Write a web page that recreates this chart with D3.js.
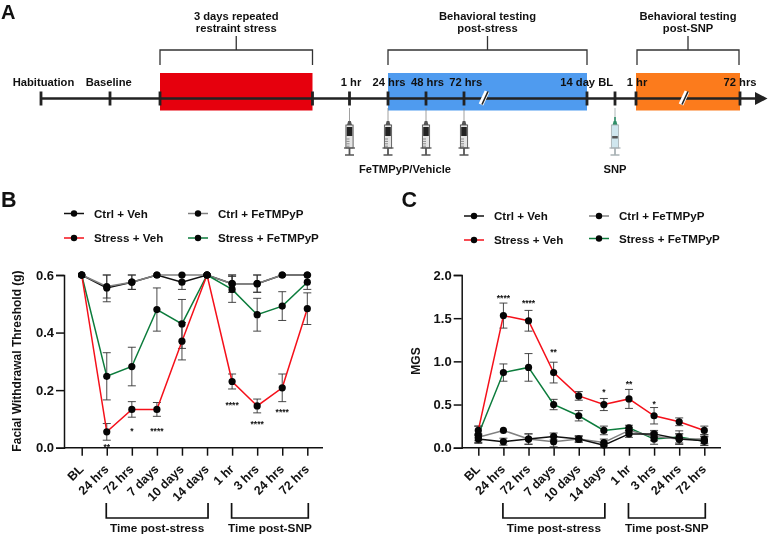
<!DOCTYPE html>
<html><head><meta charset="utf-8">
<script src="https://cdn.jsdelivr.net/npm/d3@7"></script>
<style>html,body{margin:0;padding:0;background:#fff}svg{display:block;filter:blur(0.3px)}text{font-family:"Liberation Sans",Arial,sans-serif;font-weight:700;fill:#111}</style>
</head><body><svg id="c" width="768" height="535"></svg>
<script>
const timeCategories=["BL","24 hrs","72 hrs","7 days","10 days","14 days","1 hr","3 hrs","24 hrs","72 hrs"];
const seriesNames=["Ctrl + Veh","Stress + Veh","Ctrl + FeTMPyP","Stress + FeTMPyP"];
const seriesColors=["#111111","#f5101a","#808080","#0c7c3c"];
// Panel B: facial withdrawal threshold
const bCtrlVeh=[0.6,0.555,0.575,0.6,0.575,0.6,0.57,0.57,0.6,0.6];
const bCtrlVehErr=[0,0.048,0.025,0,0.025,0,0.03,0.03,0,0];
const bStressVeh=[0.6,0.055,0.133,0.133,0.37,0.6,0.23,0.145,0.208,0.483];
const bStressVehErr=[0,0.029,0.027,0.024,0.065,0,0.026,0.024,0.048,0.055];
const bCtrlFe=[0.6,0.56,0.575,0.6,0.6,0.6,0.57,0.57,0.6,0.6];
const bCtrlFeErr=[0,0.04,0.025,0,0,0,0.03,0.03,0,0];
const bStressFe=[0.6,0.248,0.282,0.48,0.43,0.6,0.55,0.462,0.492,0.575];
const bStressFeErr=[0,0.082,0.067,0.075,0.085,0,0.045,0.057,0.05,0.025];
const bStars=["","**","*","****","","","****","****","****",""];
const bStarLevels=[0,0.01,0.065,0.065,0,0,0.155,0.09,0.13,0];
// Panel C: MGS
const cCtrlVeh=[0.1,0.07,0.1,0.13,0.1,0.03,0.16,0.16,0.1,0.08];
const cCtrlVehErr=[0.04,0.04,0.06,0.04,0.04,0.03,0.04,0.04,0.06,0.05];
const cStressVeh=[0.2,1.53,1.47,0.87,0.6,0.5,0.565,0.37,0.3,0.2];
const cStressVehErr=[0.05,0.145,0.12,0.12,0.05,0.07,0.11,0.095,0.045,0.05];
const cCtrlFe=[0.12,0.2,0.1,0.07,0.1,0.06,0.2,0.13,0.1,0.1];
const cCtrlFeErr=[0.04,0,0.06,0.06,0.03,0.04,0.03,0.05,0.06,0.05];
const cStressFe=[0.15,0.87,0.93,0.5,0.37,0.2,0.23,0.1,0.125,0.075];
const cStressFeErr=[0.1,0.1,0.16,0.06,0.06,0.05,0.03,0.06,0.07,0.05];
const cStars=["","****","****","**","","*","**","*","",""];
const cStarLevels=[0,1.76,1.7,1.13,0,0.67,0.76,0.53,0,0];
// Panel A: timeline (position along the schematic, in its own units)
const timelineTicks=[41,110,160,312.5,349.5,388,426,464,587,615,636,740];
const timelineBlocks=[{a:160,b:312.5,c:"#e6000d"},{a:388,b:587,c:"#4f9bef"},{a:636,b:740,c:"#fc7b1c"}];
const timelineBreaks=[485,685];
const timelineLabels=[["Habituation",43.5],["Baseline",108.7],["1 hr",351],["24 hrs",389],["48 hrs",427.5],["72 hrs",465.7],["14 day BL",586.7],["1 hr",637],["72 hrs",740]];
const timelineBrackets=[{a:160,b:312.5,t:["3 days repeated","restraint stress"]},{a:388,b:587,t:["Behavioral testing","post-stress"]},{a:637,b:739,t:["Behavioral testing","post-SNP"]}];
const injectionSites=[349.5,388,426,464];
const snpSite=[615];

const svg=d3.select("#c");
const tx=d3.scaleLinear().domain([0,768]).range([0,768]);
const A=svg.append("g");
const lineY=98.5;
A.selectAll("rect.block").data(timelineBlocks).join("rect").attr("x",d=>tx(d.a)).attr("width",d=>tx(d.b)-tx(d.a)).attr("y",73).attr("height",37.5).attr("fill",d=>d.c);
A.append("line").attr("x1",tx(41)).attr("x2",tx(757)).attr("y1",lineY).attr("y2",lineY).attr("stroke","#222").attr("stroke-width",2.7);
A.append("path").attr("d",`M${tx(755)},${lineY-6.5}L${tx(767.5)},${lineY}L${tx(755)},${lineY+6.5}Z`).attr("fill","#222");
A.selectAll("line.tick").data(timelineTicks).join("line").attr("x1",d=>tx(d)).attr("x2",d=>tx(d)).attr("y1",lineY-7).attr("y2",lineY+7).attr("stroke","#222").attr("stroke-width",2.8);
timelineBreaks.forEach(b=>{
  A.append("line").attr("x1",tx(b-4)).attr("x2",tx(b+2)).attr("y1",lineY+6).attr("y2",lineY-7).attr("stroke","#fff").attr("stroke-width",5);
  A.append("line").attr("x1",tx(b-3)).attr("x2",tx(b+3)).attr("y1",lineY+6).attr("y2",lineY-7).attr("stroke","#222").attr("stroke-width",1.6);
});
A.selectAll("text.tl").data(timelineLabels).join("text").attr("x",d=>tx(d[1])).attr("y",86).attr("text-anchor","middle").attr("font-size",11.2).text(d=>d[0]);
timelineBrackets.forEach(b=>{
  const m=(b.a+b.b)/2;
  A.append("path").attr("d",`M${tx(b.a)},65V50H${tx(b.b)}V65M${tx(m)},50V36`).attr("fill","none").attr("stroke","#333").attr("stroke-width",1.3);
  b.t.forEach((t,i)=>A.append("text").attr("x",tx(m)).attr("y",20+i*11.5).attr("text-anchor","middle").attr("font-size",11.2).text(t));
});
function syringe(x,snp){
  const g=A.append("g").attr("transform",`translate(${tx(x)},0)`);
  const edge=snp?"#a9b2b5":"#555";
  g.append("line").attr("y1",108).attr("y2",124).attr("stroke",snp?"#9aa3a5":"#888").attr("stroke-width",.8);
  if(snp) g.append("line").attr("y1",117).attr("y2",123).attr("stroke","#2f8f68").attr("stroke-width",1.6);
  g.append("path").attr("d","M-2.5,125L-1.3,121H1.3L2.5,125Z").attr("fill",snp?"#2f8f68":"#555");
  g.append("rect").attr("x",-3.6).attr("y",125).attr("width",7.2).attr("height",23).attr("fill",snp?"#cfe6ee":"#e4e4e4").attr("stroke",edge).attr("stroke-width",.9);
  g.append("rect").attr("x",-2.8).attr("y",snp?136:127).attr("width",5.6).attr("height",snp?2.5:9).attr("fill",snp?"#555":"#222");
  if(!snp) d3.range(4).forEach(i=>g.append("line").attr("x1",-3).attr("x2",0).attr("y1",139+i*2.4).attr("y2",139+i*2.4).attr("stroke","#666").attr("stroke-width",.7));
  g.append("line").attr("x1",-5.5).attr("x2",5.5).attr("y1",148).attr("y2",148).attr("stroke",edge).attr("stroke-width",1.3);
  g.append("line").attr("y1",148).attr("y2",155).attr("stroke",edge).attr("stroke-width",1.8);
  g.append("line").attr("x1",-4.5).attr("x2",4.5).attr("y1",155).attr("y2",155).attr("stroke",edge).attr("stroke-width",1.5);
}
injectionSites.forEach(x=>syringe(x,false));
snpSite.forEach(x=>syringe(x,true));
A.append("text").attr("x",405).attr("y",173).attr("text-anchor","middle").attr("font-size",11.2).text("FeTMPyP/Vehicle");
A.append("text").attr("x",615).attr("y",173).attr("text-anchor","middle").attr("font-size",11.2).text("SNP");

[["A",1,18.5,20],["B",1,207,21.5],["C",401.5,207,21.5]].forEach(d=>svg.append("text").attr("x",d[1]).attr("y",d[2]).attr("font-size",d[3]).text(d[0]));

function panel(o){
  const g=svg.append("g");
  const x=d3.scalePoint().domain(d3.range(timeCategories.length)).range([o.x0,o.x1]);
  const y=d3.scaleLinear().domain([0,o.max]).range([447.7,275]);
  const yAxis=d3.axisLeft(y).tickValues(o.ticks).tickFormat(d3.format(".1f")).tickSize(8).tickPadding(2);
  const xAxis=d3.axisBottom(x).tickSize(8).tickFormat(i=>timeCategories[i]);
  const ya=g.append("g").attr("transform",`translate(${o.axisX},0)`).call(yAxis);
  const xa=g.append("g").attr("transform","translate(0,447.7)").call(xAxis);
  xa.select(".domain").attr("d",`M${o.axisX},0H${o.axisEnd}`);
  [ya,xa].forEach(a=>{a.selectAll(".domain,line").attr("stroke","#111").attr("stroke-width",1.5);a.attr("font-family",null).attr("font-size",null)});
  ya.selectAll("text").attr("font-size",13).style("fill","#111");
  xa.selectAll("text").attr("font-size",12.4).style("fill","#111").attr("text-anchor","end").attr("x",0).attr("y",0).attr("dy",".35em").attr("transform","translate(-1,19) rotate(-45)");
  g.append("text").attr("transform",`translate(${o.titleX},361) rotate(-90)`).attr("text-anchor","middle").attr("font-size",12).text(o.title);
  o.series.forEach((s,si)=>{
    const col=seriesColors[s.k];
    const eg=g.append("g");
    s.v.forEach((v,i)=>{
      const e=s.e[i]; if(!e) return;
      const px=x(i),hi=y(Math.min(v+e,o.max)),lo=y(v-e>0?v-e:0);
      eg.append("path").attr("d",`M${px},${hi}V${lo}M${px-4},${hi}H${px+4}M${px-4},${lo}H${px+4}`).attr("fill","none").attr("stroke","#333").attr("stroke-width",.9);
    });
    g.append("path").datum(s.v).attr("fill","none").attr("stroke",col).attr("stroke-width",1.5).attr("d",d3.line().x((d,i)=>x(i)).y(d=>y(d)));
  });
  o.series.forEach(s=>{
    g.selectAll(null).data(s.v).join("circle").attr("cx",(d,i)=>x(i)).attr("cy",d=>y(d)).attr("r",3.6).attr("fill","#050505");
  });
  g.selectAll(null).data(o.stars).join("text").attr("x",(d,i)=>x(i)).attr("y",(d,i)=>y(o.levels[i])+5).attr("text-anchor","middle").attr("font-size",8.5).text(d=>d);
  // brackets below the axis
  [[1,5,"Time post-stress"],[6,9,"Time post-SNP"]].forEach(b=>{
    const a=x(b[0])-0.5,c=x(b[1])+1;
    g.append("path").attr("d",`M${a},503V518H${c}V503`).attr("fill","none").attr("stroke","#111").attr("stroke-width",1.7);
    g.append("text").attr("x",(a+c)/2).attr("y",532).attr("text-anchor","middle").attr("font-size",11.8).text(b[2]);
  });
  // legend
  o.legend.forEach(l=>{
    const k=l[0];
    g.append("line").attr("x1",l[1]).attr("x2",l[1]+20).attr("y1",l[2]).attr("y2",l[2]).attr("stroke",seriesColors[k]).attr("stroke-width",1.5);
    g.append("circle").attr("cx",l[1]+10).attr("cy",l[2]).attr("r",3.2).attr("fill","#050505");
    g.append("text").attr("x",l[1]+30).attr("y",l[2]+4).attr("font-size",11.6).text(seriesNames[k]);
  });
}
panel({x0:81.7,x1:307.3,axisX:64,axisEnd:323,max:0.6,ticks:[0,0.2,0.4,0.6],titleX:20.5,title:"Facial Withdrawal Threshold (g)",
  series:[{k:0,v:bCtrlVeh,e:bCtrlVehErr},{k:2,v:bCtrlFe,e:bCtrlFeErr},{k:3,v:bStressFe,e:bStressFeErr},{k:1,v:bStressVeh,e:bStressVehErr}],
  stars:bStars,levels:bStarLevels,
  legend:[[0,64,213.5],[1,64,238],[2,188,213.5],[3,188,238]]});
panel({x0:478.3,x1:704.3,axisX:461.7,axisEnd:721,max:2,ticks:[0,0.5,1,1.5,2],titleX:420,title:"MGS",
  series:[{k:3,v:cStressFe,e:cStressFeErr},{k:1,v:cStressVeh,e:cStressVehErr},{k:2,v:cCtrlFe,e:cCtrlFeErr},{k:0,v:cCtrlVeh,e:cCtrlVehErr}],
  stars:cStars,levels:cStarLevels,
  legend:[[0,464,216],[1,464,240],[2,589,216],[3,589,238.5]]});
</script></body></html>
